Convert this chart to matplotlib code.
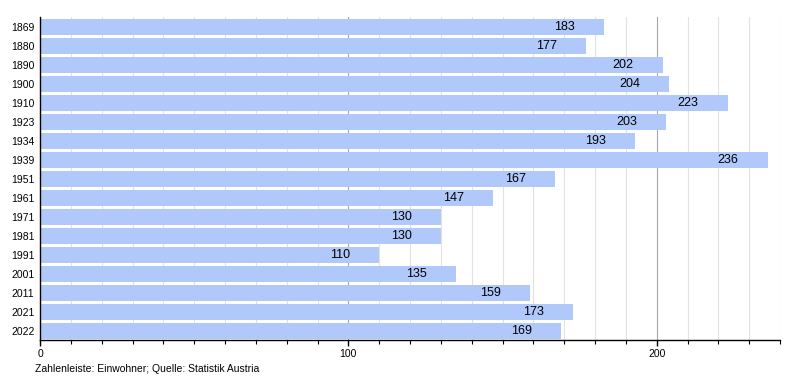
import matplotlib
matplotlib.use("Agg")
import matplotlib.pyplot as plt
from matplotlib.ticker import MultipleLocator

years = ["1869", "1880", "1890", "1900", "1910", "1923", "1934", "1939", "1951",
         "1961", "1971", "1981", "1991", "2001", "2011", "2021", "2022"]
population = [183, 177, 202, 204, 223, 203, 193, 236, 167, 147, 130, 130, 110,
              135, 159, 173, 169]
note = "Zahlenleiste: Einwohner; Quelle: Statistik Austria"

plt.rcParams['font.family'] = ['Liberation Sans', 'DejaVu Sans']

fig = plt.figure(figsize=(8, 3.8), dpi=100)
ax = fig.add_axes([0.05, 0.104, 0.925, 0.85])

ypos = list(range(len(years)))
ax.barh(ypos, population, height=0.84, color='#b1c9fa', zorder=2)
for y, v in zip(ypos, population):
    ax.annotate(str(v), (v, y), xytext=(-21, 0), textcoords='offset points',
                ha='right', va='center', fontsize=9, color='black', zorder=3)

ax.set_xlim(0, 240)
ax.set_ylim(len(years) - 0.5, -0.5)
ax.set_yticks(ypos)
ax.set_yticklabels(years, fontsize=7.5)
ax.tick_params(axis='y', length=0, pad=4)

ax.xaxis.set_major_locator(MultipleLocator(100))
ax.xaxis.set_minor_locator(MultipleLocator(10))
ax.tick_params(axis='x', which='major', length=4, width=1, labelsize=7.5, pad=2)
ax.tick_params(axis='x', which='minor', length=3, width=0.8)
ax.grid(axis='x', which='minor', color='#e2e2e2', linewidth=0.8, zorder=0)
ax.grid(axis='x', which='major', color='#a8a8a8', linewidth=0.8, zorder=0)
ax.grid(axis='y', visible=False)

for s in ['top', 'right']:
    ax.spines[s].set_visible(False)
ax.spines['left'].set_linewidth(1)
ax.spines['bottom'].set_linewidth(1)

fig.text(35 / 800, 1 - 369 / 380, note, fontsize=7.5, va='center', ha='left')

fig.savefig("out.png", dpi=100)
